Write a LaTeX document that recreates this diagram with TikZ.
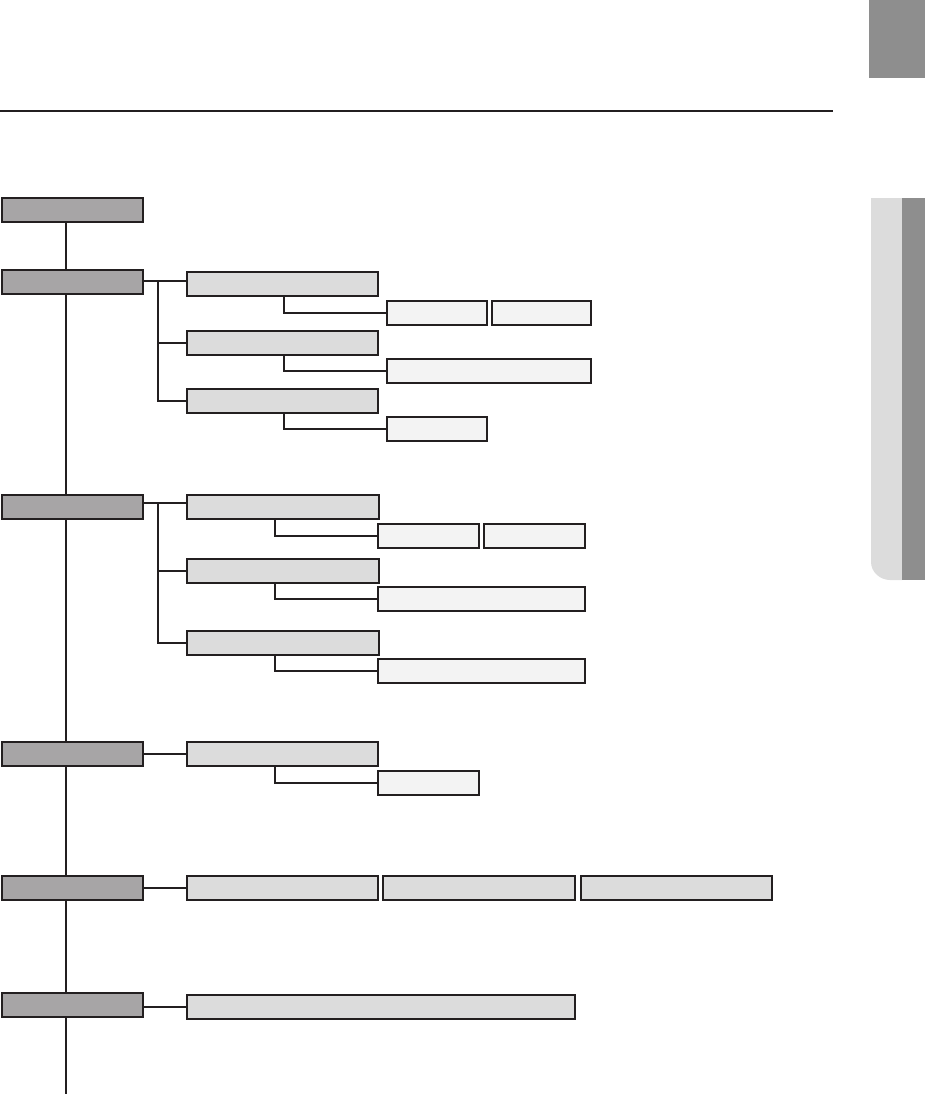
\documentclass[tikz,border=0pt]{standalone}
\begin{document}
\begin{tikzpicture}[x=1pt,y=-1pt,
  box/.style={draw=lineblk,line width=1.2pt,inner sep=0pt,outer sep=0pt,anchor=north west,minimum height=24pt},
  mainbox/.style={box,fill=maingray,minimum width=141pt},
  midbox/.style={box,fill=midgray},
  subbox/.style={box,fill=subgray},
  conn/.style={draw=lineblk,line width=1.2pt}]
\definecolor{lineblk}{HTML}{231F20}
\definecolor{maingray}{HTML}{A7A5A6}
\definecolor{midgray}{HTML}{DCDCDC}
\definecolor{subgray}{HTML}{F3F3F3}
\definecolor{tabdark}{HTML}{8E8E8E}
\definecolor{tablight}{HTML}{DCDCDC}
\useasboundingbox (0,0) rectangle (925,1094);
% page decorations
\fill[tabdark] (869,0) rectangle (925,78);
\draw[lineblk,line width=1.2pt] (0,111) -- (833,111);
\fill[tablight] (902,198) -- (871,198) -- (871,562) .. controls (871,572) and (880,580) .. (890,580) -- (902,580) -- cycle;
\fill[tabdark] (902,198) rectangle (925,580);
% main column
\node[mainbox] (B1) at (2,198) {};
\node[mainbox] (B2) at (2,270) {};
\node[mainbox] (B3) at (2,495) {};
\node[mainbox] (B4) at (2,742) {};
\node[mainbox] (B5) at (2,876) {};
\node[mainbox] (B6) at (2,993) {};
\coordinate (tx) at (66,0);
\coordinate (end) at (66,1094);
\draw[conn] (B1.south -| tx) -- (B2.north -| tx);
\draw[conn] (B2.south -| tx) -- (B3.north -| tx);
\draw[conn] (B3.south -| tx) -- (B4.north -| tx);
\draw[conn] (B4.south -| tx) -- (B5.north -| tx);
\draw[conn] (B5.south -| tx) -- (B6.north -| tx);
\draw[conn] (B6.south -| tx) -- (end);
% group 2
\node[midbox,minimum width=191pt] (C1) at (187,272) {};
\node[midbox,minimum width=191pt] (C2) at (187,331) {};
\node[midbox,minimum width=191pt] (C3) at (187,389) {};
\node[subbox,minimum width=100pt] (D1a) at (387,301) {};
\node[subbox,minimum width=99pt] (D1b) at (492,301) {};
\node[subbox,minimum width=204pt] (D2) at (387,359) {};
\node[subbox,minimum width=100pt] (D3) at (387,417) {};
\coordinate (br2) at (158,281);
\draw[conn] (B2.east |- br2) -- (C1.west |- br2);
\draw[conn] (br2) |- (C3.west);
\draw[conn] (br2 |- C2.west) -- (C2.west);
\draw[conn] ([xshift=97pt]C1.south west) |- (D1a.west);
\draw[conn] ([xshift=97pt]C2.south west) |- (D2.west);
\draw[conn] ([xshift=97pt]C3.south west) |- (D3.west);
% group 3
\node[midbox,minimum width=192pt] (E1) at (187,495) {};
\node[midbox,minimum width=192pt] (E2) at (187,559) {};
\node[midbox,minimum width=192pt] (E3) at (187,631) {};
\node[subbox,minimum width=101pt] (F1a) at (378,524) {};
\node[subbox,minimum width=101pt] (F1b) at (484,524) {};
\node[subbox,minimum width=207pt] (F2) at (378,587) {};
\node[subbox,minimum width=207pt] (F3) at (378,659) {};
\coordinate (br3) at (158,503);
\draw[conn] (B3.east |- br3) -- (E1.west |- br3);
\draw[conn] (br3) |- (E3.west);
\draw[conn] (br3 |- E2.west) -- (E2.west);
\draw[conn] ([xshift=88pt]E1.south west) |- (F1a.west);
\draw[conn] ([xshift=88pt]E2.south west) |- (F2.west);
\draw[conn] ([xshift=88pt]E3.south west) |- (F3.west);
% group 4
\node[midbox,minimum width=191pt] (G1) at (187,742) {};
\node[subbox,minimum width=101pt] (H1) at (378,771) {};
\draw[conn] (B4.east) -- (G1.west);
\draw[conn] ([xshift=88pt]G1.south west) |- (H1.west);
% group 5
\node[midbox,minimum width=191pt] (K1) at (187,876) {};
\node[midbox,minimum width=192pt] (K2) at (383,876) {};
\node[midbox,minimum width=191pt] (K3) at (581,876) {};
\draw[conn] (B5.east) -- (K1.west);
% group 6
\node[midbox,minimum width=388pt] (L1) at (187,995) {};
\draw[conn] ([yshift=-2pt]B6.east) -- ([yshift=-2pt]B6.east -| L1.west);
\end{tikzpicture}
\end{document}
